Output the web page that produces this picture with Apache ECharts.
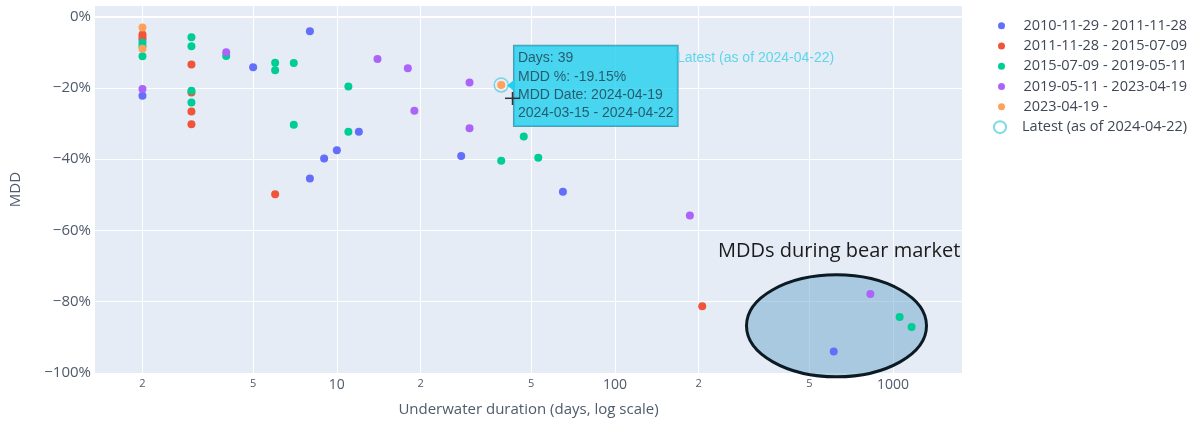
<!DOCTYPE html>
<html>
<head>
<meta charset="UTF-8">
<title>MDD vs underwater duration</title>
<script type="text/javascript" src="https://cdn.jsdelivr.net/npm/echarts@6/dist/echarts.min.js"></script>
<style>
  html, body { margin: 0; padding: 0; background: #fff; }
</style>
</head>
<body>
<div id="main" style="width:1203px;height:424px"></div>
<script type="text/javascript">
// legend names (periods)
var periods = ['2010-11-29 - 2011-11-28', '2011-11-28 - 2015-07-09', '2015-07-09 - 2019-05-11',
               '2019-05-11 - 2023-04-19', '2023-04-19 -'];
var latestName = 'Latest (as of 2024-04-22)';

// [underwater days, MDD %] per period
var p2010 = [[2, -6.4], [2, -22.2], [5, -14.2], [8, -4.1], [8, -45.4], [9, -39.8], [10, -37.5],
             [12, -32.3], [28, -39.1], [65, -49.1], [612, -94.0]];
var p2011 = [[2, -5.0], [2, -5.7], [3, -13.4], [3, -21.3], [3, -26.6], [3, -30.2], [6, -49.8], [206, -81.3]];
var p2015 = [[2, -7.3], [2, -8.3], [2, -11.1], [3, -5.8], [3, -8.3], [3, -20.8], [3, -24.1], [4, -11.0],
             [6, -12.9], [6, -15.0], [7, -13.0], [7, -30.3], [11, -19.6], [11, -32.3], [39, -40.4],
             [47, -33.6], [53, -39.6], [1056, -84.3], [1166, -87.1]];
var p2019 = [[2, -20.3], [4, -10.0], [14, -11.9], [18, -14.5], [19, -26.4], [30, -18.5], [30, -31.3],
             [186, -55.8], [829, -77.8]];
var p2023 = [[2, -3.0], [2, -9.0], [39, -19.15]];
var latest = [[39, -19.15]];
var latestMddDate = '2024-04-19';
var latestRange = '2024-03-15 - 2024-04-22';

var xTicks = [2, 5, 10, 20, 50, 100, 200, 500, 1000];
var yTicks = [-100, -80, -60, -40, -20, 0];

var colors = ['#636EFA', '#EF553B', '#00CC96', '#AB63FA', '#FFA15A'];
var txt = '#4f5a6b';
var font = 'Open Sans';

var myChart = echarts.init(document.getElementById('main'));

function pts(name, data, color) {
    return {
        name: name, type: 'scatter', data: data, symbolSize: 8,
        itemStyle: { color: color, opacity: 1 },
        emphasis: { disabled: true }
    };
}

var series = [
    pts(periods[0], p2010, colors[0]),
    pts(periods[1], p2011, colors[1]),
    pts(periods[2], p2015, colors[2]),
    pts(periods[3], p2019, colors[3]),
    pts(periods[4], p2023, colors[4]),
    {
        name: latestName, type: 'scatter', data: latest, symbolSize: 14,
        itemStyle: { color: 'rgba(0,0,0,0)', borderColor: '#5ccfdc', borderWidth: 1.5 },
        emphasis: { disabled: true },
        z: 5,
        label: {
            show: true, position: 'right', distance: 5, offset: [0, 1],
            formatter: function (p) {
                return 'Days: ' + p.value[0] + '\nMDD %: ' + p.value[1].toFixed(2) + '%\nMDD Date: ' +
                    latestMddDate + '\n' + latestRange;
            },
            backgroundColor: '#1fd0ef', borderColor: '#2f8aa0', borderWidth: 1,
            padding: [3, 4, 4, 4], lineHeight: 18.3, fontSize: 14,
            fontFamily: 'Liberation Sans', color: '#1f3b4b', align: 'left'
        }
    }
];
// thicker zero line like plotly
series[0].markLine = {
    silent: true, symbol: 'none', label: { show: false },
    lineStyle: { color: '#fff', width: 2, type: 'solid' },
    data: [{ yAxis: 0 }]
};

var legendText = { fontFamily: font, fontSize: 14.5, color: '#3f4756', lineHeight: 20.3 };

option = {
    animation: false,
    backgroundColor: '#fff',
    grid: {
        left: 95, right: 241, top: 6, bottom: 51,
        outerBoundsMode: 'none', containLabel: false,
        show: true, backgroundColor: '#E5ECF6', borderWidth: 0
    },
    legend: [
        {
            data: periods, orient: 'vertical', left: 993, top: 10.5,
            icon: 'circle', itemWidth: 34, itemHeight: 7, itemGap: 0,
            textStyle: legendText, selectedMode: false
        },
        {
            data: [latestName], orient: 'vertical', left: 988, top: 112,
            icon: 'circle', itemWidth: 34, itemHeight: 12, itemGap: 0,
            textStyle: legendText, selectedMode: false
        }
    ],
    xAxis: {
        type: 'log', logBase: 10, min: 1.35, max: 1770,
        name: 'Underwater duration (days, log scale)', nameLocation: 'middle', nameGap: 29,
        nameTextStyle: { fontFamily: font, fontSize: 15, color: txt },
        axisLine: { show: false },
        axisTick: { show: false, customValues: xTicks },
        splitLine: { show: true, lineStyle: { color: '#fff', width: 1 } },
        axisLabel: {
            customValues: xTicks, margin: 5, color: txt,
            formatter: function (v) {
                var e = Math.log10(v);
                if (Math.abs(e - Math.round(e)) < 1e-9) return '{big|' + v + '}';
                return '{small|' + String(v).charAt(0) + '}';
            },
            rich: {
                big: { fontFamily: font, fontSize: 14, color: txt },
                small: { fontFamily: font, fontSize: 11, color: txt }
            }
        }
    },
    yAxis: {
        type: 'value', min: -100, max: 3,
        name: 'MDD', nameLocation: 'middle', nameGap: 72,
        nameTextStyle: { fontFamily: font, fontSize: 15, color: txt },
        axisLine: { show: false },
        axisTick: { show: false, customValues: yTicks },
        splitLine: { show: true, lineStyle: { color: '#fff', width: 1 } },
        axisLabel: {
            customValues: yTicks, margin: 4, color: txt, fontFamily: font, fontSize: 15,
            formatter: function (v) { return (v < 0 ? '\u2212' : '') + Math.abs(v) + '%'; }
        }
    },
    graphic: [
        {
            type: 'ellipse', z: 1, silent: true,
            shape: { cx: 836.5, cy: 325.8, rx: 90, ry: 51 },
            style: { fill: 'rgba(109,166,204,0.5)', stroke: '#0c1a24', lineWidth: 3 }
        },
        {
            type: 'text', z: 10, left: 718, top: 241, silent: true,
            style: { text: 'MDDs during bear market', fontFamily: font, fontSize: 20, fill: '#1b1b1b' }
        },
        {
            type: 'polygon', z: 100, silent: true,
            shape: { points: [[514, 80], [507, 85.5], [514, 91]] },
            style: { fill: '#1fd0ef' }
        },
        {
            type: 'text', z: 10, left: 677, top: 51, silent: true,
            style: { text: latestName, fontFamily: 'Liberation Sans', fontSize: 14, fill: '#5fd5ea' }
        },
        {
            type: 'line', z: 101, silent: true,
            shape: { x1: 505, y1: 98.3, x2: 520, y2: 98.3 },
            style: { stroke: '#333', lineWidth: 1.5 }
        },
        {
            type: 'line', z: 101, silent: true,
            shape: { x1: 512.5, y1: 92, x2: 512.5, y2: 105 },
            style: { stroke: '#333', lineWidth: 1.5 }
        }
    ],
    series: series
};

myChart.setOption(option);
</script>
</body>
</html>
